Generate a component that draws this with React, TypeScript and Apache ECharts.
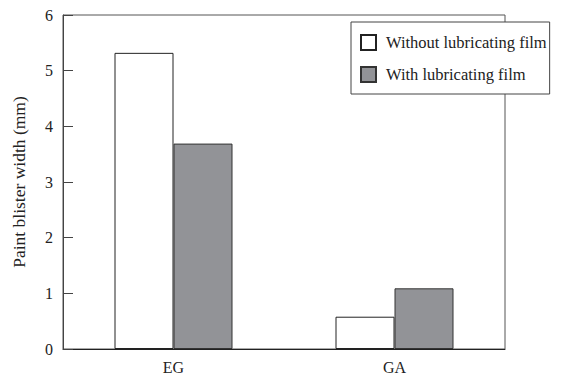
import React, { useEffect, useRef } from "react";
import * as echarts from "echarts";

const categories = ["EG", "GA"];
const withoutFilm = [5.32, 0.58];
const withFilm = [3.69, 1.09];
const seriesNames = ["Without lubricating film", "With lubricating film"];
const yTicks = [0, 1, 2, 3, 4, 5, 6];

const FONT = "Liberation Serif";

export default function App() {
  const ref = useRef<HTMLDivElement>(null);
  useEffect(() => {
    if (!ref.current) return;
    const chart = echarts.init(ref.current, null, { renderer: "svg" });
    chart.setOption({
      animation: false,
      backgroundColor: "#ffffff",
      textStyle: { fontFamily: FONT },
      grid: {
        left: 63,
        right: 56,
        top: 15,
        bottom: 32,
        show: true,
        borderColor: "#555",
        borderWidth: 1,
        backgroundColor: "transparent",
      },
      legend: {
        orient: "vertical",
        left: 351,
        top: 22,
        padding: [12, 3, 11, 9],
        itemGap: 15,
        itemWidth: 15,
        itemHeight: 15,
        icon: "rect",
        backgroundColor: "#ffffff",
        borderColor: "#444",
        borderWidth: 1,
        textStyle: { fontFamily: FONT, fontSize: 16.5, color: "#222", padding: [0, 0, 0, 5] },
        data: seriesNames,
        z: 10,
      },
      xAxis: {
        type: "category",
        data: categories,
        axisLine: { lineStyle: { color: "#222", width: 1 } },
        axisTick: { show: false },
        axisLabel: { fontFamily: FONT, fontSize: 16, color: "#222", margin: 10 },
      },
      yAxis: {
        type: "value",
        min: 0,
        max: yTicks[yTicks.length - 1],
        interval: 1,
        name: "Paint blister width (mm)",
        nameLocation: "middle",
        nameGap: 35,
        nameTextStyle: { fontFamily: FONT, fontSize: 17.5, color: "#222" },
        axisLine: { show: true, lineStyle: { color: "#444", width: 1 } },
        axisTick: { show: true, inside: true, length: 10, lineStyle: { color: "#444" } },
        splitLine: { show: false },
        axisLabel: { fontFamily: FONT, fontSize: 16, color: "#222", margin: 10 },
      },
      series: [
        {
          name: seriesNames[0],
          type: "bar",
          data: withoutFilm,
          barWidth: 59,
          barGap: "0%",
          itemStyle: { color: "#ffffff", borderColor: "#222", borderWidth: 1 },
        },
        {
          name: seriesNames[1],
          type: "bar",
          data: withFilm,
          barWidth: 59,
          barGap: "0%",
          itemStyle: { color: "#929397", borderColor: "#333", borderWidth: 1 },
        },
      ],
    });
    return () => chart.dispose();
  }, []);
  return <div ref={ref} style={{ width: 561, height: 381, margin: -8 }} />;
}
